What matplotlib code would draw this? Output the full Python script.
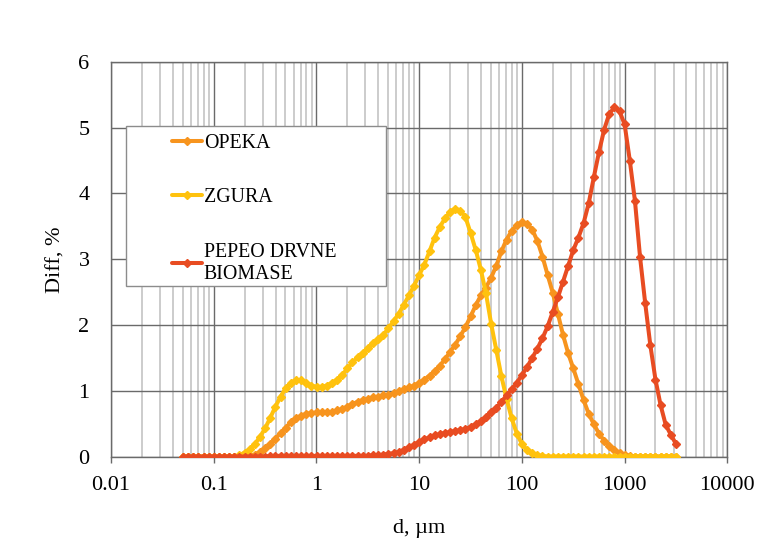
import matplotlib
matplotlib.use('Agg')
import matplotlib.pyplot as plt
from matplotlib.patches import Rectangle
from matplotlib.ticker import LogLocator, FixedLocator, FixedFormatter

# velicine cestica (um)
d = [0.0502, 0.0564, 0.0632, 0.0710, 0.0796, 0.0893,
     0.1002, 0.1125, 0.1262, 0.1416, 0.1589, 0.1783, 0.2000, 0.2244, 0.2518, 0.2825,
     0.3170, 0.3557, 0.3991, 0.4477, 0.5024, 0.5637, 0.6325, 0.7096, 0.7962, 0.8934,
     1.002, 1.125, 1.262, 1.416, 1.589, 1.783, 2.000, 2.244, 2.518, 2.825,
     3.170, 3.557, 3.991, 4.477, 5.024, 5.637, 6.325, 7.096, 7.962, 8.934,
     10.02, 11.25, 12.62, 14.16, 15.89, 17.83, 20.00, 22.44, 25.18, 28.25,
     31.70, 35.57, 39.91, 44.77, 50.24, 56.37, 63.25, 70.96, 79.62, 89.34,
     100.2, 112.5, 126.2, 141.6, 158.9, 178.3, 200.0, 224.4, 251.8, 282.5,
     317.0, 355.7, 399.1, 447.7, 502.4, 563.7, 632.5, 709.6, 796.2, 893.4,
     1002, 1125, 1262, 1416, 1589, 1783, 2000, 2244, 2518, 2825, 3170]

opeka = [0, 0, 0, 0, 0, 0, 0, 0, 0, 0, 0, 0, 0,
         0.01, 0.03, 0.07, 0.13, 0.19, 0.27, 0.36, 0.44, 0.52, 0.58, 0.62, 0.65, 0.66,
         0.67, 0.67, 0.67, 0.68, 0.70, 0.72, 0.76, 0.80, 0.83, 0.86,
         0.88, 0.90, 0.91, 0.93, 0.94, 0.96, 0.99, 1.02, 1.05, 1.08,
         1.12, 1.17, 1.23, 1.30, 1.38, 1.48, 1.59, 1.70, 1.83, 1.97,
         2.13, 2.30, 2.45, 2.57, 2.72, 2.90, 3.12, 3.30, 3.43, 3.52,
         3.56, 3.54, 3.45, 3.28, 3.04, 2.76, 2.49, 2.17, 1.85, 1.57,
         1.34, 1.10, 0.86, 0.65, 0.49, 0.35, 0.24, 0.16, 0.10, 0.06,
         0.03, 0.01, 0, 0, 0, 0, 0, 0, 0, 0, 0]

zgura = [0, 0, 0, 0, 0, 0, 0, 0, 0, 0, 0,
         0.02, 0.06, 0.11, 0.19, 0.30, 0.43, 0.59, 0.76, 0.91, 1.04, 1.12, 1.16, 1.16, 1.12, 1.08,
         1.06, 1.06, 1.08, 1.12, 1.17, 1.24, 1.34, 1.43, 1.51, 1.58,
         1.65, 1.72, 1.79, 1.85, 1.95, 2.06, 2.17, 2.31, 2.45, 2.60,
         2.76, 2.92, 3.12, 3.33, 3.49, 3.62, 3.72, 3.77, 3.74, 3.64,
         3.40, 3.14, 2.84, 2.48, 2.02, 1.62, 1.22, 0.88, 0.58, 0.35,
         0.19, 0.10, 0.05, 0.02, 0.01,
         0, 0, 0, 0, 0, 0, 0, 0, 0, 0, 0, 0, 0, 0, 0, 0, 0, 0, 0, 0, 0, 0, 0, 0, 0, 0]

pepeo = [0, 0, 0, 0, 0, 0, 0, 0, 0, 0, 0, 0, 0, 0, 0, 0,
         0, 0.01, 0.01, 0.01, 0.01, 0.01, 0.01, 0.01, 0.01, 0.01,
         0.01, 0.01, 0.01, 0.01, 0.01, 0.01, 0.01, 0.01, 0.01, 0.01,
         0.01, 0.02, 0.02, 0.03, 0.04, 0.05, 0.07, 0.10, 0.14, 0.18,
         0.22, 0.26, 0.29, 0.32, 0.34, 0.36, 0.37, 0.39, 0.40, 0.42,
         0.45, 0.49, 0.54, 0.60, 0.67, 0.74, 0.83, 0.93, 1.02, 1.12,
         1.24, 1.36, 1.50, 1.64, 1.80, 1.98, 2.20, 2.42, 2.66, 2.90,
         3.14, 3.33, 3.55, 3.85, 4.25, 4.63, 4.97, 5.21, 5.31, 5.25,
         5.05, 4.50, 3.89, 3.03, 2.33, 1.69, 1.17, 0.78, 0.48, 0.33, 0.19]

nazivi = ['OPEKA', 'ZGURA', 'PEPEO DRVNE\nBIOMASE']
boje = ['#F7941E', '#FFC20E', '#E84C22']

x_ticks = [0.01, 0.1, 1, 10, 100, 1000, 10000]
x_tick_labels = ['0.01', '0.1', '1', '10', '100', '1000', '10000']
y_ticks = [0, 1, 2, 3, 4, 5, 6]

plt.rcParams['font.family'] = ['Liberation Serif', 'DejaVu Serif']

fig = plt.figure(figsize=(7.67, 5.47), dpi=100)
ax = fig.add_axes([0.1447, 0.1654, 0.8035, 0.7213])

for y, boja, naziv in zip([opeka, zgura, pepeo], boje, nazivi):
    ax.plot(d, y, color=boja, lw=2.9, marker='D', ms=4, mec=boja, mfc=boja,
            label=naziv, zorder=3, solid_capstyle='round', solid_joinstyle='round')

ax.set_xscale('log')
ax.set_xlim(0.01, 10000)
ax.set_ylim(0, 6)
ax.xaxis.set_major_locator(FixedLocator(x_ticks))
ax.xaxis.set_major_formatter(FixedFormatter(x_tick_labels))
ax.xaxis.set_minor_locator(LogLocator(base=10, subs=range(2, 10), numticks=20))
ax.set_yticks(y_ticks)

ax.grid(which='major', axis='both', color='#6a6a6a', lw=1.0, zorder=0)
ax.grid(which='minor', axis='x', color='#c4c4c4', lw=1.2, zorder=0)
ax.set_axisbelow(True)

for s in ax.spines.values():
    s.set_color('#6a6a6a')
    s.set_linewidth(1.0)

ax.tick_params(axis='x', which='major', length=4, width=1, color='#6a6a6a',
               labelsize=16, pad=10)
ax.tick_params(axis='x', which='minor', length=0)
ax.tick_params(axis='y', length=0, labelsize=16, pad=15.5)

ax.set_xlabel('d, µm', fontsize=16, labelpad=17)
ax.set_ylabel('Diff, %', fontsize=16, labelpad=9)

# okvir legende
okvir = Rectangle((126 / 767, 1 - 286 / 547), 260 / 767, 160 / 547,
                  transform=fig.transFigure, facecolor='white',
                  edgecolor='#8c8c8c', lw=1.0, zorder=4)
ax.add_patch(okvir)
okvir.set_clip_on(False)

leg = ax.legend(loc='upper left', bbox_to_anchor=(172 / 767, 1 - 134 / 547),
                bbox_transform=fig.transFigure, frameon=False, fontsize=14.3,
                handlelength=1.5, handletextpad=0.1, labelspacing=1.78,
                borderpad=0, borderaxespad=0)
leg.set_zorder(5)

plt.savefig('out.png', dpi=100)
